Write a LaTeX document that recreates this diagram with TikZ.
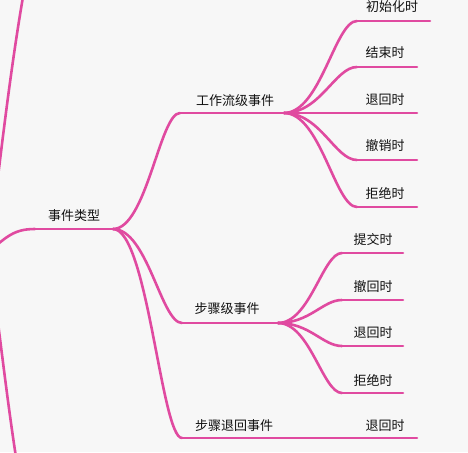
\documentclass[tikz,border=0pt]{standalone}
\usepackage{fontspec}
\setmainfont{Noto Sans CJK SC}
\usetikzlibrary{calc}
\definecolor{bg}{HTML}{F7F7F7}
\definecolor{branchcol}{RGB}{224,74,160}
\definecolor{txt}{HTML}{111111}
\tikzset{
  branch/.style={draw=branchcol, line width=2.6pt, line cap=round},
  lbl/.style={font=\fontsize{13pt}{14pt}\selectfont, text=txt, inner sep=0pt},
}
\newcommand\mmcurve[2]{\draw[branch] let \p1=(#1), \p2=(#2), \n1={\x2-\x1} in (\p1) .. controls ({\x1+0.5*\n1},\y1) and ({\x2-0.3*\n1},\y2) .. (\p2);}
\begin{document}
\begin{tikzpicture}[x=1pt,y=-1pt]
\fill[bg] (0,0) rectangle (468,452);
\useasboundingbox (0,0) rectangle (468,452);
\clip (0,0) rectangle (468,452);

% root-level partial branches
\coordinate (rootA) at (-20,258);
\coordinate (m0) at (35,229);
\coordinate (j0) at (113,229);
\coordinate (topA) at (-3,185);
\coordinate (topB) at (26,-20);
\coordinate (botA) at (-3,315);
\coordinate (botB) at (18,470);
\draw[branch] (rootA) .. controls (5,240) and (10,229) .. (m0);
\draw[branch] (m0) -- (j0);
\draw[branch] (topA) .. controls (6,110) and (15,40) .. (topB);
\draw[branch] (botA) .. controls (4,370) and (10,420) .. (botB);

% level 1
\coordinate (ws) at (180,113);
\coordinate (j1) at (284,113);
\coordinate (ss) at (182,323);
\coordinate (j2) at (278,323);
\coordinate (rs) at (182,438);
\coordinate (j3) at (280,438);
\mmcurve{j0}{ws}
\mmcurve{j0}{ss}
\mmcurve{j0}{rs}
\draw[branch] (ws) -- (j1);
\draw[branch] (ss) -- (j2);
\draw[branch] (rs) -- (j3);

% level 2 under 工作流级事件
\coordinate (a1s) at (357,21);  \coordinate (a1e) at (430,21);
\coordinate (a2s) at (357,67);  \coordinate (a2e) at (417,67);
\coordinate (a3e) at (417,113);
\coordinate (a4s) at (357,160); \coordinate (a4e) at (417,160);
\coordinate (a5s) at (357,207); \coordinate (a5e) at (417,207);
\mmcurve{j1}{a1s} \draw[branch] (a1s) -- (a1e);
\mmcurve{j1}{a2s} \draw[branch] (a2s) -- (a2e);
\draw[branch] (j1) -- (a3e);
\mmcurve{j1}{a4s} \draw[branch] (a4s) -- (a4e);
\mmcurve{j1}{a5s} \draw[branch] (a5s) -- (a5e);

% level 2 under 步骤级事件
\coordinate (b1s) at (342,253); \coordinate (b1e) at (403,253);
\coordinate (b2s) at (342,300); \coordinate (b2e) at (403,300);
\coordinate (b3s) at (342,346); \coordinate (b3e) at (403,346);
\coordinate (b4s) at (342,393); \coordinate (b4e) at (403,393);
\mmcurve{j2}{b1s} \draw[branch] (b1s) -- (b1e);
\mmcurve{j2}{b2s} \draw[branch] (b2s) -- (b2e);
\mmcurve{j2}{b3s} \draw[branch] (b3s) -- (b3e);
\mmcurve{j2}{b4s} \draw[branch] (b4s) -- (b4e);

% level 2 under 步骤退回事件
\coordinate (c1e) at (417,438);
\draw[branch] (j3) -- (c1e);

% labels
\node[lbl] (t0) at (74,216) {事件类型};
\node[lbl] (tw) at (235,101) {工作流级事件};
\node[lbl] (ts) at (227,309) {步骤级事件};
\node[lbl] (tr) at (234,426) {步骤退回事件};
\node[lbl] (ta1) at (392,7) {初始化时};
\node[lbl] (ta2) at (385,53) {结束时};
\node[lbl] (ta3) at (385,100) {退回时};
\node[lbl] (ta4) at (385,146) {撤销时};
\node[lbl] (ta5) at (385,193) {拒绝时};
\node[lbl] (tb1) at (373,240) {提交时};
\node[lbl] (tb2) at (373,287) {撤回时};
\node[lbl] (tb3) at (373,333) {退回时};
\node[lbl] (tb4) at (373,380) {拒绝时};
\node[lbl] (tc1) at (385,426) {退回时};
\end{tikzpicture}
\end{document}
